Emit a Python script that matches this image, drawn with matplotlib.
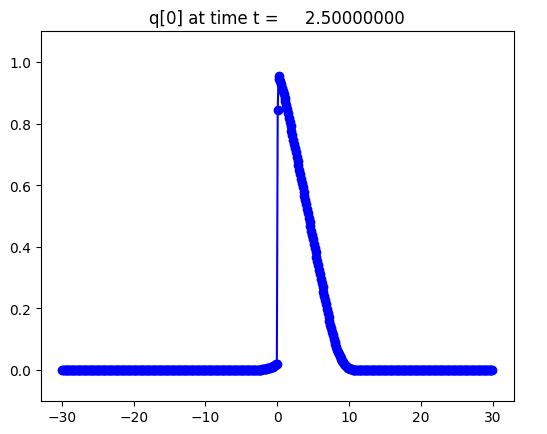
"""q[0] snapshot at t = 2.5 on a 500-cell grid over [-30, 30]."""
import matplotlib
matplotlib.use("Agg")
import matplotlib.pyplot as plt
import numpy as np

# grid (uniform finite-volume cells)
X_LOWER, X_UPPER, NUM_CELLS = -30.0, 30.0, 500
FRAME_TIME = 2.5

# q values, starting at the cell centred on x = -2.10;
# every other cell is 0.0
FRONT_START_X = -2.10
Q_LEFT_FOOT = [0.001, 0.001, 0.002, 0.002, 0.003, 0.003, 0.004, 0.005, 0.006,
               0.007, 0.008, 0.009, 0.010, 0.012, 0.013, 0.015, 0.017, 0.019]
Q_JUMP = [0.845]
Q_RAMP = [0.955, 0.946, 0.937, 0.927, 0.917, 0.906, 0.895, 0.884, 0.872, 0.860,
          0.848, 0.833, 0.819, 0.805, 0.791, 0.777, 0.763, 0.748, 0.734, 0.720,
          0.706, 0.692, 0.678, 0.664, 0.650, 0.636, 0.621, 0.607, 0.593, 0.579,
          0.565, 0.551, 0.537, 0.522, 0.508, 0.494, 0.480, 0.466, 0.452, 0.438,
          0.424, 0.409, 0.395, 0.381, 0.367, 0.353, 0.339, 0.325, 0.311, 0.296,
          0.282, 0.268, 0.254, 0.240, 0.226, 0.212, 0.198, 0.184, 0.171, 0.158,
          0.146, 0.134, 0.123, 0.112, 0.101, 0.091, 0.082, 0.073, 0.065, 0.058,
          0.051, 0.045, 0.039, 0.034, 0.029, 0.024, 0.020, 0.016, 0.013, 0.010,
          0.007, 0.005, 0.004, 0.002, 0.001, 0.001]


def main() -> None:
    dx = (X_UPPER - X_LOWER) / NUM_CELLS
    xc = X_LOWER + dx * (np.arange(NUM_CELLS) + 0.5)

    front = Q_LEFT_FOOT + Q_JUMP + Q_RAMP
    i0 = int(round((FRONT_START_X - X_LOWER) / dx - 0.5))
    q = np.zeros(NUM_CELLS)
    q[i0:i0 + len(front)] = front

    fig = plt.figure(figsize=(5.47, 4.35), dpi=100)
    ax = fig.add_axes([0.0744, 0.077, 0.865, 0.849])
    ax.plot(xc, q, "b-o")
    ax.set_ylim(-0.1, 1.1)
    ax.set_title("q[0] at time t = %14.8f" % FRAME_TIME)

    fig.savefig("out.png", dpi=100)
    plt.close(fig)


if __name__ == "__main__":
    main()
